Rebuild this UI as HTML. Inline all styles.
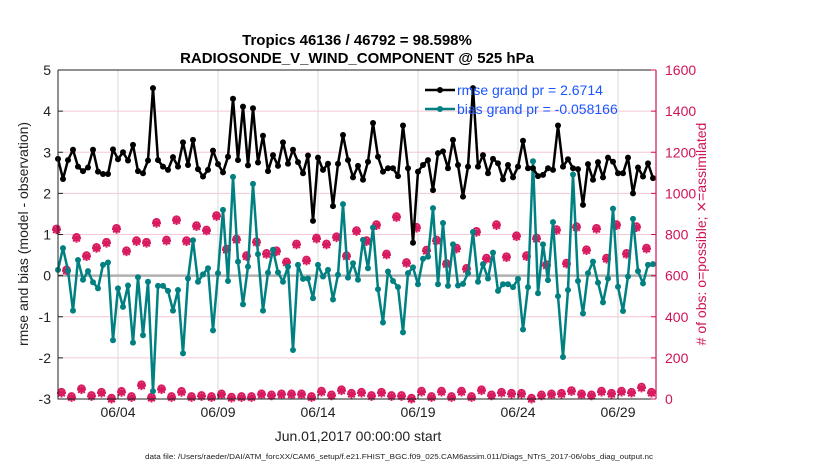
<!DOCTYPE html>
<html><head><meta charset="utf-8"><style>
html,body{margin:0;padding:0;background:#fff;}
svg{display:block;font-family:"Liberation Sans",sans-serif;}
</style></head><body>
<svg id="chart" width="830" height="470" xmlns="http://www.w3.org/2000/svg">
<text x="357" y="45" text-anchor="middle" font-size="15" font-weight="bold">Tropics 46136 / 46792 = 98.598%</text>
<text x="357" y="63" text-anchor="middle" font-size="15" font-weight="bold">RADIOSONDE_V_WIND_COMPONENT @ 525 hPa</text>
<g id="grid"></g>
<g id="series"></g>
<g id="axes"></g>
<text transform="translate(28,234) rotate(-90)" text-anchor="middle" font-size="14" fill="#222">rmse and bias (model - observation)</text>
<text transform="translate(706,234) rotate(-90)" text-anchor="middle" font-size="14" fill="#d0145a"># of obs: o=possible; ⨯=assimilated</text>
<text x="358" y="441" text-anchor="middle" font-size="14" fill="#222">Jun.01,2017 00:00:00 start</text>
<text x="145" y="459" font-size="7" textLength="508" lengthAdjust="spacingAndGlyphs" fill="#222">data file: /Users/raeder/DAI/ATM_forcXX/CAM6_setup/f.e21.FHIST_BGC.f09_025.CAM6assim.011/Diags_NTrS_2017-06/obs_diag_output.nc</text>
<g id="legend">
<line x1="425" y1="90" x2="455" y2="90" stroke="#000" stroke-width="2.5"/>
<circle cx="440" cy="90" r="3" fill="#000"/>
<text x="457" y="95" font-size="14" fill="#1a55ff">rmse grand pr = 2.6714</text>
<line x1="425" y1="109" x2="455" y2="109" stroke="#008080" stroke-width="2.5"/>
<circle cx="440" cy="109" r="3" fill="#008080"/>
<text x="457" y="114" font-size="14" fill="#1a55ff">bias grand pr = -0.058166</text>
</g>
</svg>
<script>
const rmse=[2.84,2.35,2.81,3.06,2.65,2.54,2.63,3.06,2.53,2.47,2.47,3.07,2.83,3.0,2.8,3.18,2.54,2.49,2.8,4.56,2.81,2.65,2.57,2.88,2.65,3.24,2.69,3.3,2.59,2.41,2.57,3.04,2.71,2.51,2.89,4.3,2.81,4.11,2.68,4.07,2.75,3.4,2.54,2.93,2.67,3.24,2.72,3.06,2.76,2.49,2.92,1.33,2.87,2.57,2.72,1.69,2.72,3.42,2.81,2.39,2.67,2.33,2.77,3.71,2.89,2.53,2.61,2.61,2.42,3.65,2.61,0.8,2.53,2.69,2.81,2.08,2.98,3.02,2.61,3.3,2.69,1.92,2.65,4.56,2.65,2.93,2.49,2.84,2.73,2.34,2.69,2.39,2.65,3.28,2.61,2.61,2.42,2.45,2.61,2.57,3.65,2.65,2.83,2.61,2.59,1.72,2.71,2.33,2.76,2.39,2.87,2.77,2.49,2.49,2.87,2.0,2.63,2.41,2.73,2.37];
const bias=[0.14,0.67,0.12,-0.85,0.38,-0.1,0.11,-0.16,-0.31,0.26,0.32,-1.57,-0.31,-0.76,-0.24,-1.63,-0.04,-1.45,-0.15,-2.81,-0.25,-0.25,-0.37,-0.85,-0.35,-1.89,-0.07,0.86,-0.15,0.03,0.18,-1.33,0.06,1.6,-0.13,2.4,0.34,-0.7,0.22,2.23,0.52,-0.85,0.07,0.63,0.08,-0.15,0.22,-1.81,0.26,-0.08,-0.07,-0.55,0.26,-0.02,0.14,-0.58,0.02,1.74,-0.05,0.3,-0.1,0.87,0.18,1.17,-0.33,-1.14,0.1,-0.13,-0.28,-1.38,0.06,0.2,-0.21,0.41,0.46,1.64,-0.21,1.28,-0.25,0.76,-0.24,-0.2,0.06,1.06,-0.15,0.28,-0.07,0.56,-0.37,-0.21,-0.21,-0.28,-0.08,-1.31,-0.28,2.78,-0.43,0.76,-0.11,1.3,-0.5,-1.98,-0.35,2.46,-0.13,-0.92,0.06,0.34,-0.17,-0.65,-0.07,1.63,-0.27,-0.86,-0.02,1.38,0.11,-0.19,0.26,0.28];
const countHigh=[823,624,782,693,733,758,826,717,766,758,855,769,868,766,839,818,888,725,774,693,761,704,717,663,750,672,779,750,785,693,815,766,844,701,883,660,831,720,769,655,730,631,811,681,844,688,790,693,779,649,820,657,834,722,826,681,844,704,834,730];
const countLow=[29,8,46,13,29,0,33,8,65,5,46,8,33,8,13,8,21,5,8,8,21,16,21,21,21,8,34,16,41,24,29,13,29,13,13,0,34,8,34,8,34,8,41,16,29,24,24,0,16,21,24,37,21,16,34,24,34,29,54,29];
const assimHigh=countHigh.slice();
const assimLow=countLow.slice();
const yTicksLeft=[-3,-2,-1,0,1,2,3,4,5];
const yTicksRight=[0,200,400,600,800,1000,1200,1400,1600];
const xTickDays=[3,8,13,18,23,28];
const xTickLabels=["06/04","06/09","06/14","06/19","06/24","06/29"];

const L=58,R=656,T=70,B=399;
const NS="http://www.w3.org/2000/svg";
const xDay=d=>L+d*20;
const xIdx=i=>xDay(i*0.25);
const yL=v=>B-(v+3)*(B-T)/8;
const yR=c=>B-c*(B-T)/1600;
function mk(tag,attrs,parent){const e=document.createElementNS(NS,tag);for(const k in attrs)e.setAttribute(k,attrs[k]);parent.appendChild(e);return e;}
const grid=document.getElementById('grid'),ser=document.getElementById('series'),ax=document.getElementById('axes');
yTicksRight.forEach(c=>{if(c>0&&c<1600){const l=mk('line',{x1:L,x2:R,y1:yR(c),y2:yR(c),stroke:'#f4c6d6','stroke-width':1},grid);

}});
xTickDays.forEach(d=>{const l=mk('line',{x1:xDay(d),x2:xDay(d),y1:T,y2:B,stroke:'#d8d8d8','stroke-width':1},grid);

});
const zl=mk('line',{x1:L,x2:R,y1:yL(0),y2:yL(0),stroke:'#b0b0b0','stroke-width':2.5},grid);


function countMarker(x,y,nm){const g=mk('g',{},ser);


mk('circle',{cx:x,cy:y-1,r:3.4,fill:'none',stroke:'#d81b60','stroke-width':1.6},g);
mk('path',{d:`M${x-4.5} ${y}H${x+4.5}M${x} ${y-4.5}V${y+4.5}M${x-3.3} ${y-3.3}L${x+3.3} ${y+3.3}M${x-3.3} ${y+3.3}L${x+3.3} ${y-3.3}`,stroke:'#d81b60','stroke-width':2},g);}
countHigh.forEach((c,k)=>countMarker(xIdx(2*k)-1.5,yR(c),'count-possible-marker'));
countLow.forEach((c,k)=>countMarker(xIdx(2*k+1)-1.5,yR(c),'count-possible-marker'));
assimHigh.forEach((c,k)=>{const p=mk('circle',{cx:xIdx(2*k)-1.5,cy:yR(c)+1,r:1.8,fill:'#d81b60'},ser);

});
assimLow.forEach((c,k)=>{const p=mk('circle',{cx:xIdx(2*k+1)-1.5,cy:yR(c)+1,r:1.8,fill:'#d81b60'},ser);

});
function line(arr,color,nm){const pts=arr.map((v,i)=>xIdx(i)+','+yL(v)).join(' ');
const pl=mk('polyline',{points:pts,fill:'none',stroke:color,'stroke-width':2.5,'stroke-linejoin':'round'},ser);


arr.forEach((v,i)=>{const c=mk('circle',{cx:xIdx(i),cy:yL(v),r:3,fill:color},ser);

});}
line(bias,'#008080','bias');
line(rmse,'#000000','rmse');
const fr=mk('path',{d:`M${L} ${T}H${R}M${L} ${T}V${B}H${R}`,fill:'none',stroke:'#222','stroke-width':1},ax);


const ra=mk('line',{x1:R,x2:R,y1:T,y2:B,stroke:'#d0145a','stroke-width':1.2},ax);


yTicksLeft.forEach(v=>{mk('line',{x1:L,x2:L+5,y1:yL(v),y2:yL(v),stroke:'#222'},ax);
const t=mk('text',{x:L-7,y:yL(v)+5,'text-anchor':'end','font-size':14,fill:'#222'},ax);t.textContent=v;

});
yTicksRight.forEach(c=>{mk('line',{x1:R-5,x2:R,y1:yR(c),y2:yR(c),stroke:'#d0145a'},ax);
const t=mk('text',{x:R+9,y:yR(c)+5,'font-size':14,fill:'#d0145a'},ax);t.textContent=c;

});
xTickDays.forEach((d,i)=>{mk('line',{x1:xDay(d),x2:xDay(d),y1:B,y2:B-5,stroke:'#222'},ax);
const t=mk('text',{x:xDay(d),y:B+18,'text-anchor':'middle','font-size':14,fill:'#222'},ax);t.textContent=xTickLabels[i];

});
</script>
</body></html>
